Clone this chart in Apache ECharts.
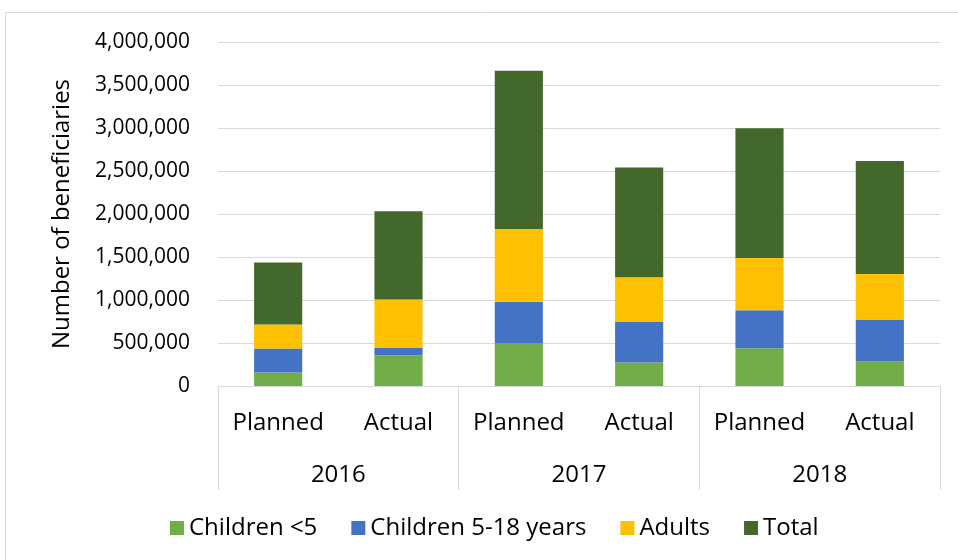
<!DOCTYPE html>
<html>
<head>
<meta charset="utf-8">
<title>Beneficiaries</title>
<script src="https://cdn.jsdelivr.net/npm/echarts@6/dist/echarts.min.js"></script>
</head>
<body style="margin:0;background:#fff;">
<div id="main" style="width:958px;height:560px;"></div>
<script type="text/javascript">
// categories: plan/actual per year
var phases = ['Planned', 'Actual', 'Planned', 'Actual', 'Planned', 'Actual'];
var years = ['2016', '2017', '2018'];

// stacked segment values
var childrenUnder5 = [156000, 357000, 493000, 272000, 438000, 284000];
var children5to18 = [279000, 85000, 488000, 472000, 442000, 488000];
var adults = [279000, 563000, 845000, 520000, 608000, 530000];
var total = [722000, 1026000, 1840000, 1276000, 1508000, 1314000];

var seriesNames = ['Children <5', 'Children 5-18 years', 'Adults', 'Total'];
var seriesColors = ['#70ad47', '#4472c4', '#ffc000', '#43682b'];
var seriesData = [childrenUnder5, children5to18, adults, total];

var chartDom = document.getElementById('main');
var myChart = echarts.init(chartDom);
var font = '"Open Sans", "DejaVu Sans", sans-serif';

var option = {
  animation: false,
  textStyle: { fontFamily: font },
  graphic: [{
    type: 'rect',
    shape: { x: 5.5, y: 12.5, width: 980, height: 600 },
    style: { fill: 'none', stroke: '#d9d9d9', lineWidth: 1 },
    silent: true
  }],
  grid: { left: 218, right: 18, top: 42, bottom: 174 },
  legend: {
    bottom: 15,
    left: 165,
    itemWidth: 14,
    itemHeight: 14,
    itemGap: 34,
    icon: 'rect',
    textStyle: { fontSize: 24, color: '#000', fontFamily: font },
    data: seriesNames
  },
  xAxis: [
    {
      type: 'category',
      data: phases,
      position: 'bottom',
      axisLine: { lineStyle: { color: '#d9d9d9', width: 1 } },
      axisTick: { show: false },
      axisLabel: { fontSize: 24, color: '#000', margin: 25, interval: 0, fontFamily: font }
    },
    {
      type: 'category',
      data: years,
      position: 'bottom',
      axisLine: { show: false },
      axisTick: { show: true, length: 104, lineStyle: { color: '#d9d9d9', width: 1 } },
      axisLabel: { fontSize: 24, color: '#000', margin: 77, fontFamily: font }
    }
  ],
  yAxis: {
    type: 'value',
    min: 0,
    max: 4000000,
    interval: 500000,
    name: 'Number of beneficiaries',
    nameLocation: 'middle',
    nameGap: 144,
    nameTextStyle: { fontSize: 24, color: '#000', fontFamily: font },
    axisLine: { show: false },
    axisTick: { show: false },
    splitLine: { lineStyle: { color: '#d9d9d9', width: 1 } },
    axisLabel: {
      fontSize: 21,
      color: '#000',
      margin: 28,
      fontFamily: font,
      formatter: function (v) { return v.toLocaleString('en-US'); }
    }
  },
  series: seriesNames.map(function (name, i) {
    return {
      name: name,
      type: 'bar',
      stack: 'all',
      xAxisIndex: 0,
      barWidth: '40%',
      itemStyle: { color: seriesColors[i] },
      data: seriesData[i]
    };
  })
};

option && myChart.setOption(option);
</script>
</body>
</html>
